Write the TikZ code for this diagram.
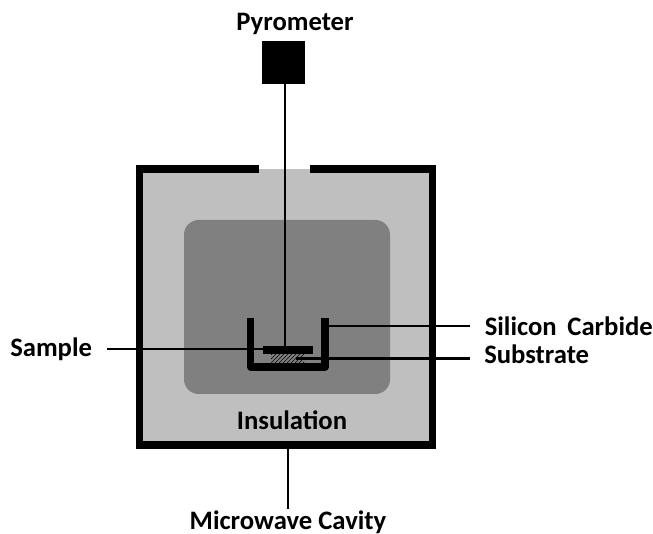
\documentclass[tikz,border=0pt]{standalone}
\usepackage{fontspec}
\setmainfont{Carlito}
\usetikzlibrary{patterns}
\tikzset{
	label text/.style={font=\fontsize{20}{24}\selectfont\bfseries,inner sep=0pt},
	lead line/.style={draw=black,line width=1.9pt},
}
\begin{document}
\begin{tikzpicture}[x=0.75pt,y=-0.75pt]

	\clip (0,0) rectangle (653,534);

	\fill[fill={rgb,255:red,191;green,191;blue,191}] (139.5,169) rectangle (432,445);
	\fill[fill={rgb,255:red,128;green,128;blue,128},rounded corners=11pt] (184,220) rectangle (390,394);

	\path[draw=black,line width=5.4pt] (259,169) -- (139.5,169) -- (139.5,445) -- (432.5,445) -- (432.5,169) -- (310,169);

	\node[fill=black,minimum size=32.25pt,inner sep=0pt] (pyro) at (283.5,62.5) {};
	\node[fill=black,minimum width=37.5pt,minimum height=6pt,inner sep=0pt] (sample) at (288,350) {};
	\node[pattern=north east lines,minimum width=24.75pt,minimum height=6.75pt,inner sep=0pt] (substrate) at (287.5,358.5) {};

	\path[draw=black,line width=5.4pt,line join=round] (250.5,318) -- (250.5,367) -- (325,367) -- (325,318);

	\node[label text] (pyrolabel) at (295,24) {Pyrometer};
	\node[label text,anchor=east] (sclabel) at (653,326) {Silicon\hspace{0.4em}Carbide};
	\node[label text,anchor=west] (sublabel) at (484,354) {Substrate};
	\node[label text,anchor=west] (samplelabel) at (10,349) {Sample};
	\node[label text] (inslabel) at (292,420) {Insulation};
	\node[label text,anchor=south] (cavlabel) at (288,533.5) {Microwave Cavity};

	\coordinate (pyroline) at (285,84);
	\coordinate (scend) at (470,326);
	\coordinate (scwall) at (329,326);
	\coordinate (subend) at (470,358.5);
	\coordinate (subin) at (296,358.5);
	\coordinate (sampleend) at (107,349);
	\coordinate (cavtop) at (288,449);
	\coordinate (cavend) at (288,509);

	\path[lead line] (pyroline) -- (sample.north -| pyroline);
	\path[lead line] (scwall) -- (scend);
	\path[lead line] (subin) -- (subend);
	\path[lead line] (sampleend) -- (sample.west |- sampleend);
	\path[lead line] (cavtop) -- (cavend);

\end{tikzpicture}
\end{document}
